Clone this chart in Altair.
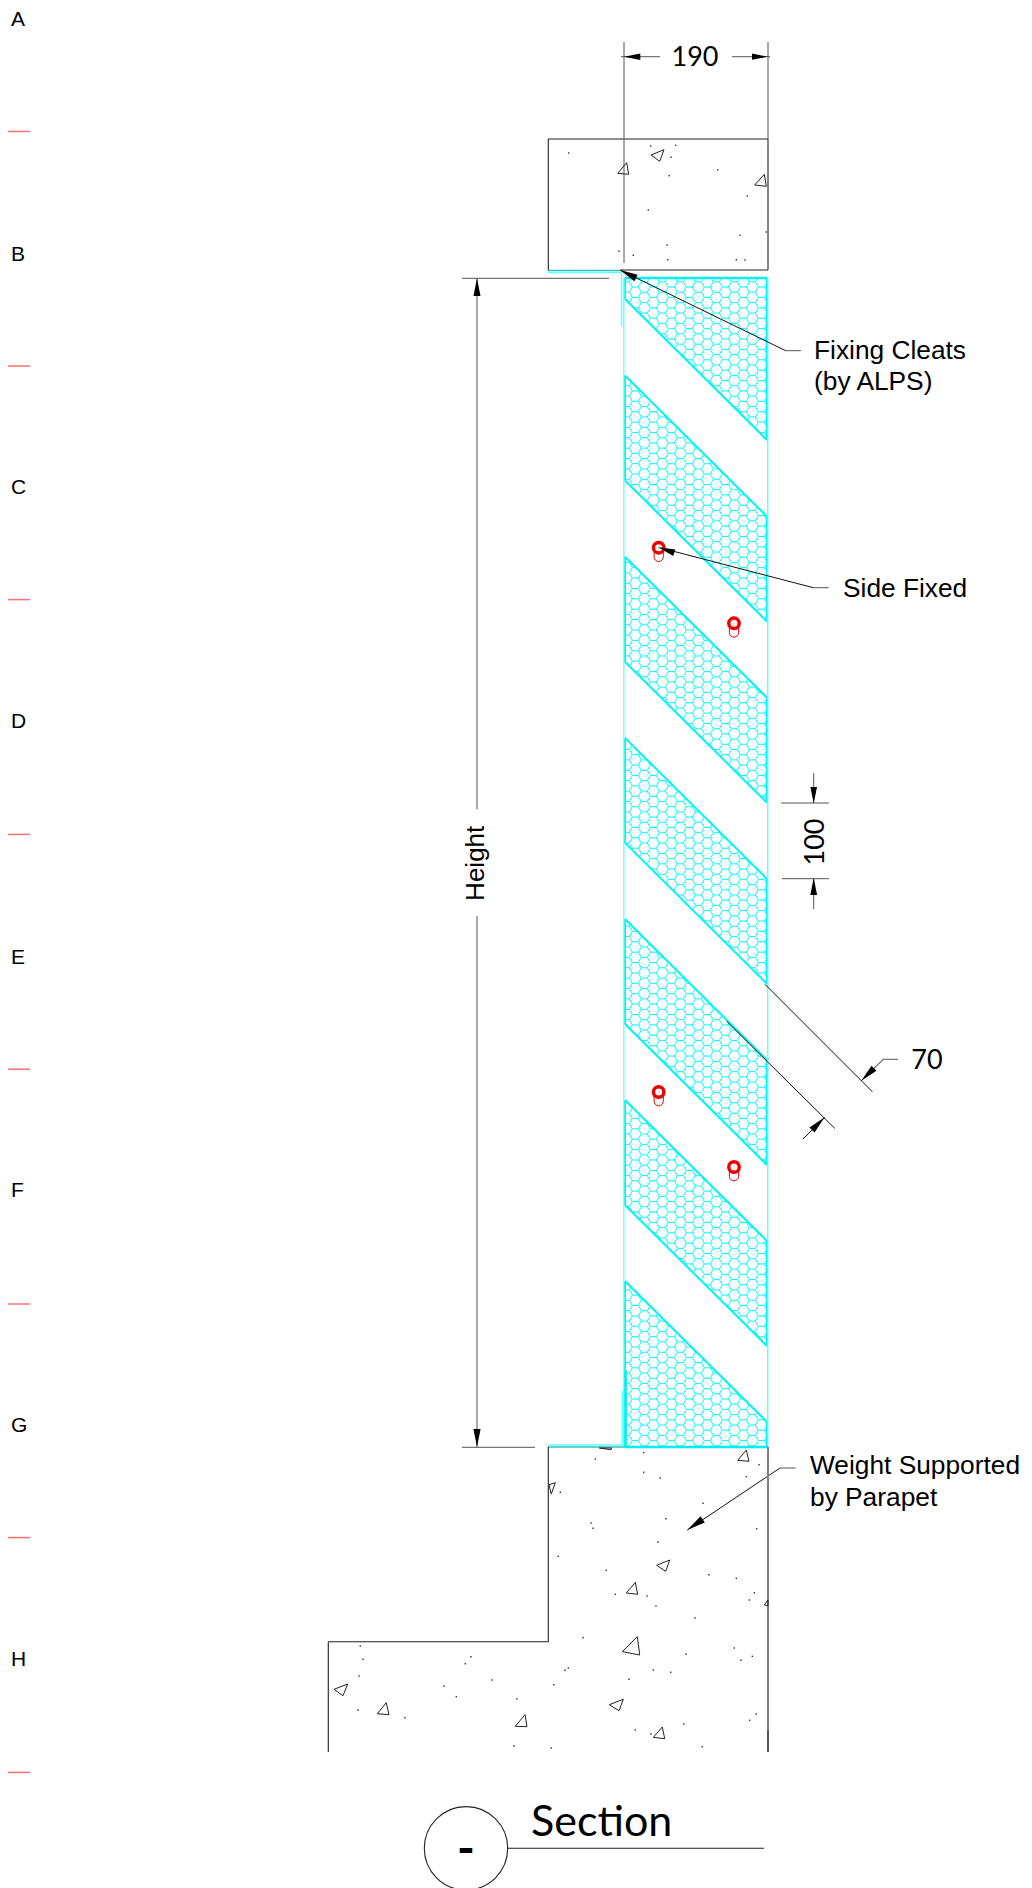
import math
import altair as alt
import pandas as pd

# ---- panel bands (top-left y of every hatched band) ----
BAND_TOPS = [194, 375.5, 556.7, 737.9, 919, 1100, 1281]
BAND_DEPTH = 105
PANEL_LEFT, PANEL_RIGHT, PANEL_TOP, PANEL_BOTTOM = 625, 767, 278, 1447
BAND_RUN = 141
HEX_SIDE, HEX_ANCHOR = 6.0, (653.3, 1425.0)

# ---- drawing lines: (x1, y1, x2, y2) ----
DARK_LINES = [
    (548.3, 139, 768, 139), (548.3, 139, 548.3, 270), (621, 270, 768, 270),
    (768, 139, 768, 270), (548.3, 1447, 548.3, 1641.7), (328.3, 1641.7, 548.3, 1641.7),
    (328.3, 1641.7, 328.3, 1752), (507.7, 1848.3, 764, 1848.3),
]
GRAY_LINES = [
    (624, 42, 624, 263), (768, 42, 768, 139), (621, 56.7, 660, 56.7), (732, 56.7, 770, 56.7),
    (477, 278.3, 477, 809.3), (477, 916, 477, 1447), (462, 278.3, 609, 278.3), (462, 1447.3, 535, 1447.3),
    (781, 803, 829, 803), (782, 878.7, 829, 878.7), (813.7, 773, 813.7, 803), (813.7, 878.7, 813.7, 909),
    (785.7, 350.7, 801, 350.7), (813.3, 587.7, 828.7, 587.7), (780, 1468, 795.7, 1468),
    (883.3, 1059.3, 898, 1059.3),
]
THIN_BLACK = [
    (620, 270, 785.7, 350.7), (658.3, 547.3, 813.3, 587.7), (687.3, 1530, 780, 1468),
    (765, 984.3, 872.3, 1091.7), (726.7, 1021.3, 834.7, 1128.3),
    (861.3, 1080.7, 883.3, 1059.3), (824.7, 1117.3, 803, 1139),
]
WALL_LINES = [(768, 1447, 768, 1730)]
WALL_DARK = [(768, 1730, 768, 1752)]
CYAN_LIGHT = [
    (623.8, 278, 623.8, 1447), (767.7, 278, 767.7, 1447), (548, 272.5, 621.6, 272.5), (621.6, 272.5, 621.6, 326.7),
    (622.3, 1390.7, 622.3, 1445), (548, 1445, 622.3, 1445),
]
CYAN_TEAL = [(548, 270.5, 621, 270.5), (548, 1447, 625, 1447)]
CYAN_HEAVY = [(625, 278, 767, 278), (625, 1447, 768, 1447), (625.7, 1370, 625.7, 1447)]

# ---- aggregate triangles in the concrete ----
TRIANGLES = [
    [(617.7, 173.3), (626.7, 162.7), (628.7, 174.3)], [(651, 155), (664, 149.7), (659.7, 161.3)],
    [(754.7, 185), (764.3, 174.3), (766.3, 186.3)], [(737.7, 1460.3), (746.3, 1450), (749, 1461.3)],
    [(549, 1484.7), (555.3, 1482.7), (551.3, 1494)], [(599.3, 1448), (611, 1449.7), (611.7, 1448)],
    [(656.7, 1565.3), (669.7, 1560), (665.7, 1571.3)], [(626.3, 1593), (635.3, 1582.3), (637.7, 1594.3)],
    [(764.3, 1605), (768, 1600), (768, 1605.7)], [(622.3, 1651.7), (637.3, 1636.7), (639.7, 1655)],
    [(334, 1689.3), (347.7, 1684), (343, 1695.7)], [(377.3, 1713.7), (386.3, 1702.7), (389, 1714.7)],
    [(515.3, 1726.3), (525, 1714.7), (527, 1726.7)], [(609.3, 1704.7), (623.3, 1699.3), (619, 1710.7)],
    [(653.3, 1737.3), (662.3, 1727), (664.7, 1738.7)],
]

# ---- concrete speckle dots ----
DOTS = [
    (568.7, 153), (650.7, 146), (675.7, 145.3), (671, 157.3), (669.3, 175.7), (717.7, 169.7), (747.3, 196),
    (648.3, 210), (740, 235.3), (766.3, 232), (667, 245), (619, 251.3), (633.3, 255.3), (667.7, 259.7),
    (736.3, 259.7), (745, 260), (595.3, 1459), (643.7, 1452.7), (643.7, 1472.3), (660.3, 1478), (759, 1464.7),
    (746.3, 1476.7), (560.3, 1492.3), (703, 1503.3), (666, 1518.7), (591, 1523), (593, 1528.3), (756.7, 1528.7),
    (658, 1542), (558.3, 1556.3), (606.3, 1570.3), (709, 1574.7), (736.3, 1578.3), (754.3, 1592.7), (749.3, 1600),
    (615.3, 1594.3), (647, 1596), (656, 1606), (695, 1618), (583, 1637.7), (734.3, 1648), (686, 1654.3),
    (741, 1660.3), (752.3, 1656.3), (360.3, 1646), (363, 1659.3), (359, 1676), (471, 1656.7), (465.3, 1663.7),
    (492, 1680), (444, 1686), (456.3, 1696.7), (517, 1698.7), (553.7, 1684.7), (565, 1670.3), (568.3, 1668),
    (629, 1679.3), (653.3, 1670), (670.7, 1672.3), (358, 1710), (405, 1717.7), (756.3, 1714), (749.7, 1720.3),
    (683.7, 1724), (635.3, 1730), (651, 1734), (514, 1746), (551.3, 1748), (702.3, 1746.7),
]

# ---- arrowheads: tip, tail ----
ARROWS = [
    ((624, 56.7), (640.3, 56.7)), ((767.7, 56.7), (752, 56.7)), ((477, 278.3), (477, 296)), ((477, 1447), (477, 1429)),
    ((620, 270), (636, 278)), ((658.3, 547.3), (674.3, 552.7)), ((687.3, 1530), (702.7, 1519.3)),
    ((813.7, 803.5), (813.7, 787)), ((813.7, 878), (813.7, 895)),
    ((861.3, 1080.7), (874, 1068.3)), ((824.7, 1117.3), (812, 1130)),
]

BOLTS = [(658.7, 547.7), (734, 623.3), (658.7, 1092), (734, 1167)]

# ---- sheet grid at the left ----
SHEET_TICKS = [131.5, 366, 599.6, 834.4, 1069.2, 1304, 1537.6, 1772.4]
SHEET_LETTERS = ["A", "B", "C", "D", "E", "F", "G", "H"]
SHEET_BASELINES = [26, 260.7, 494, 727.7, 963.5, 1197, 1432, 1666]

# ---- texts ----
ARIAL_TEXT = [
    ("Fixing Cleats", 814, 358.5), ("(by ALPS)", 814, 390), ("Side Fixed", 843, 596.7),
    ("Weight Supported", 810, 1474.3), ("by Parapet", 810, 1506),
]
LATO_TEXT = [("190", 695, 66, 27, 0), ("70", 927, 1069, 27, 0), ("100", 824, 842, 27, 270)]


def clip(seg, planes):
    (x1, y1, x2, y2) = seg
    t0, t1 = 0.0, 1.0
    dx, dy = x2 - x1, y2 - y1
    for a, b, c in planes:  # a*x + b*y <= c
        den = a * dx + b * dy
        num = c - a * x1 - b * y1
        if abs(den) < 1e-9:
            if num < 0:
                return None
        elif den > 0:
            t1 = min(t1, num / den)
        else:
            t0 = max(t0, num / den)
    if t0 >= t1:
        return None
    return (x1 + t0 * dx, y1 + t0 * dy, x1 + t1 * dx, y1 + t1 * dy)


slope = BAND_RUN / (PANEL_RIGHT - PANEL_LEFT)
outline, hatch = [], []
last = len(BAND_TOPS) - 1
for n, t in enumerate(BAND_TOPS):
    box = [(-1, 0, -PANEL_LEFT), (1, 0, PANEL_RIGHT), (0, -1, -PANEL_TOP), (0, 1, PANEL_BOTTOM)]
    # the first band runs up to the panel top, the last one down to the panel bottom
    planes = list(box)
    if n > 0:
        planes.append((slope, -1, slope * PANEL_LEFT - t))
    if n < last:
        planes.append((-slope, 1, t + BAND_DEPTH - slope * PANEL_LEFT))
    upper = (PANEL_LEFT, t, PANEL_RIGHT, t + BAND_RUN)
    lower = (PANEL_LEFT, t + BAND_DEPTH, PANEL_RIGHT, t + BAND_DEPTH + BAND_RUN)
    edges = []
    if n > 0:
        edges.append(upper)
    if n < last:
        edges.append(lower)
    edges.append((PANEL_LEFT, PANEL_TOP if n == 0 else t, PANEL_LEFT,
                  PANEL_BOTTOM if n == last else t + BAND_DEPTH))
    edges.append((PANEL_RIGHT, PANEL_TOP if n == 0 else t + BAND_RUN, PANEL_RIGHT,
                  PANEL_BOTTOM if n == last else t + BAND_RUN + BAND_DEPTH))
    for e in edges:
        c = clip(e, box)
        if c:
            outline.append(c)
    a = HEX_SIDE
    h = a * math.sqrt(3) / 2
    for i in range(-6, 16):
        cx = HEX_ANCHOR[0] + i * 1.5 * a
        for j in range(-125, 5):
            cy = HEX_ANCHOR[1] + j * 2 * h + (h if i % 2 else 0)
            if cy < t - 20 - BAND_DEPTH or cy > t + BAND_DEPTH + BAND_RUN + 20 + BAND_DEPTH:
                continue
            for s in [
                (cx - a / 2, cy - h, cx + a / 2, cy - h),
                (cx + a / 2, cy - h, cx + a, cy),
                (cx + a, cy, cx + a / 2, cy + h),
            ]:
                c = clip(s, planes)
                if c:
                    hatch.append(c)

rows = []


def add(segs, stroke, width):
    for s in segs:
        rows.append(dict(x=s[0], y=s[1], x2=s[2], y2=s[3], c=stroke, w=width))


add(hatch, "#00ffff", 1.0)
add(outline, "#00f5f5", 2.0)
add(CYAN_LIGHT, "#66ffff", 1.4)
add(CYAN_TEAL, "#2cc4c4", 1.4)
add(CYAN_HEAVY, "#00f0f0", 2.4)
add(DARK_LINES, "#222222", 1.1)
add(GRAY_LINES, "#555555", 1.0)
add(THIN_BLACK, "#111111", 1.0)
add(WALL_LINES, "#808080", 2.0)
add(WALL_DARK, "#555555", 2.0)
for tri in TRIANGLES:
    for k in range(3):
        p, q = tri[k], tri[(k + 1) % 3]
        rows.append(dict(x=p[0], y=p[1], x2=q[0], y2=q[1], c="#222222", w=1.0))
add([(0, y, 30, y) for y in SHEET_TICKS], "#ff7070", 1.5)
add([(0.8, 0, 0.8, 1888)], "#c0c0c0", 1.5)
for bx, by in BOLTS:
    add([(bx - 8, by, bx + 8, by), (bx, by - 8, bx, by + 8)], "#e6e6e6", 1.0)

X = alt.X("x:Q", scale=alt.Scale(domain=[8, 1024], nice=False, zero=False), axis=None)
Y = alt.Y("y:Q", scale=alt.Scale(domain=[1888, 8], nice=False, zero=False), axis=None)

segments = alt.Chart(pd.DataFrame(rows)).mark_rule().encode(
    x=X, y=Y, x2="x2:Q", y2="y2:Q",
    color=alt.Color("c:N", scale=None),
    strokeWidth=alt.StrokeWidth("w:Q", scale=None),
)
dots = alt.Chart(pd.DataFrame(DOTS, columns=["x", "y"])).mark_point(
    shape="square", filled=True, size=2, color="#333333", opacity=1
).encode(x=X, y=Y)

arrow_df = pd.DataFrame([
    dict(x=t[0], y=t[1], a=math.degrees(math.atan2(t[1] - b[1], t[0] - b[0])) % 360,
         s=(t[0] - b[0]) ** 2 + (t[1] - b[1]) ** 2)
    for t, b in ARROWS
])
arrows = alt.Chart(arrow_df).mark_point(
    shape="M0,0L-2,-0.4L-2,0.4Z", filled=True, color="#000000", opacity=1, strokeWidth=0
).encode(x=X, y=Y, angle=alt.Angle("a:Q", scale=None), size=alt.Size("s:Q", scale=None))

bolt_df = pd.DataFrame(BOLTS, columns=["x", "y"])
rings = alt.Chart(bolt_df).mark_point(
    shape="circle", size=110, color="#ee0000", strokeWidth=3.4, opacity=1, filled=False
).encode(x=X, y=Y)
slots = alt.Chart(bolt_df).mark_point(
    shape="M-1,0L-1,2A1,1 0 0 0 1,2L1,0", size=85, color="#ee0000", strokeWidth=1, opacity=1, filled=False
).encode(x=X, y=Y)

section_circle = alt.Chart(pd.DataFrame({"x": [466], "y": [1848.3]})).mark_point(
    shape="circle", size=6956, color="#222222", strokeWidth=1.1, opacity=1, filled=False
).encode(x=X, y=Y)

arial = alt.Chart(pd.DataFrame(ARIAL_TEXT, columns=["t", "x", "y"])).mark_text(
    font="Liberation Sans", fontSize=26.3, align="left", baseline="alphabetic", color="#000000"
).encode(x=X, y=Y, text="t:N")
letters = alt.Chart(pd.DataFrame({"t": SHEET_LETTERS, "x": [11] * 8, "y": SHEET_BASELINES})).mark_text(
    font="Liberation Sans", fontSize=21, align="left", baseline="alphabetic", color="#000000"
).encode(x=X, y=Y, text="t:N")
height_text = alt.Chart(pd.DataFrame({"t": ["Height"], "x": [484], "y": [863.3]})).mark_text(
    font="Liberation Sans", fontSize=26, align="center", baseline="alphabetic", angle=270, color="#000000"
).encode(x=X, y=Y, text="t:N")
lato = alt.Chart(pd.DataFrame(LATO_TEXT, columns=["t", "x", "y", "s", "a"])).mark_text(
    font="Lato", align="center", baseline="alphabetic", color="#000000"
).encode(x=X, y=Y, text="t:N", size=alt.Size("s:Q", scale=None), angle=alt.Angle("a:Q", scale=None))
section = alt.Chart(pd.DataFrame({"t": ["Section"], "x": [531], "y": [1836]})).mark_text(
    font="Lato", fontSize=43, align="left", baseline="alphabetic", color="#000000"
).encode(x=X, y=Y, text="t:N")
dash = alt.Chart(pd.DataFrame({"t": ["-"], "x": [466], "y": [1865]})).mark_text(
    font="Lato", fontSize=48, fontWeight="bold", align="center", baseline="alphabetic", color="#000000"
).encode(x=X, y=Y, text="t:N")

chart = alt.layer(
    segments, dots, rings, slots, arrows, section_circle, arial, letters, height_text, lato, section, dash
).properties(
    width=1016, height=1880, padding=0, autosize=alt.AutoSizeParams(type="none"), background="#ffffff"
).configure_view(stroke=None)

chart.save("out.html", embed_options={"renderer": "svg", "actions": False})
